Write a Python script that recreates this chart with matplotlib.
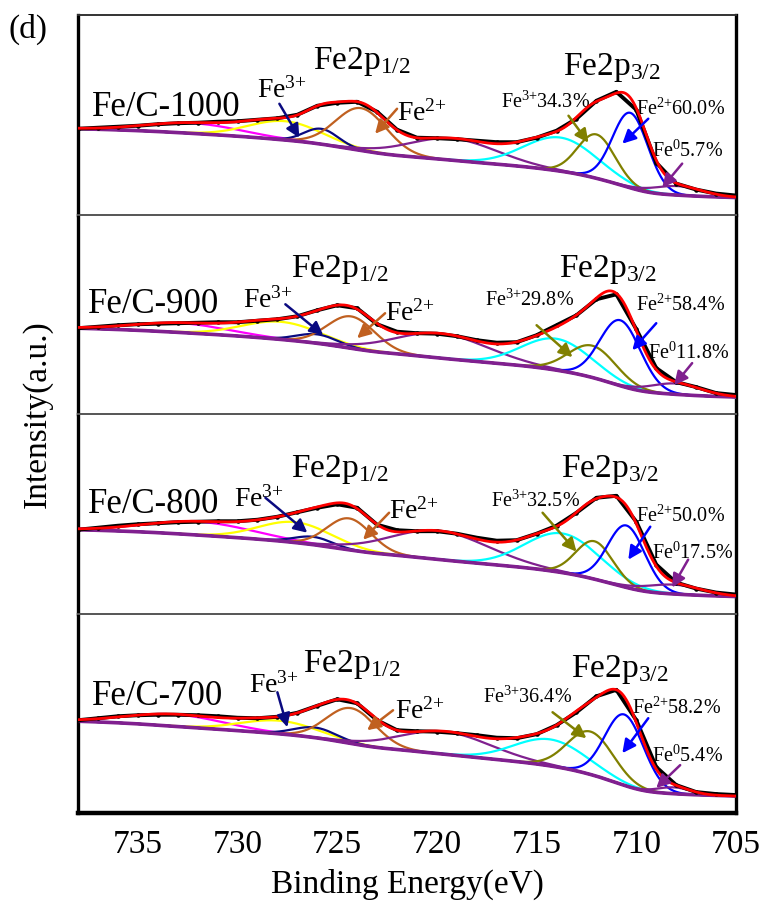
import numpy as np
import matplotlib
matplotlib.use("Agg")
import matplotlib.pyplot as plt

plt.rcParams['font.family'] = ['Liberation Serif', 'DejaVu Serif']
plt.rcParams['mathtext.fontset'] = 'custom'
plt.rcParams['mathtext.rm'] = 'Liberation Serif'
plt.rcParams['mathtext.default'] = 'regular'

# ---- data -------------------------------------------------------------
samples = ['Fe/C-1000', 'Fe/C-900', 'Fe/C-800', 'Fe/C-700']
fe3_pct = ['34.3%', '29.8%', '32.5%', '36.4%']
fe2_pct = ['60.0%', '58.4%', '50.0%', '58.2%']
fe0_pct = ['5.7%', '11.8%', '17.5%', '5.4%']

# measured spectra, read every 1 eV from 738 down to 705 eV
energy_raw = np.arange(738, 704, -1)
raw_1000 = [86, 87, 88, 89, 90.5, 91.5, 92, 93, 93.5, 95, 96.5, 100, 109, 112, 113, 103, 85,
            77, 76.5, 75.5, 74, 72.5, 72.5, 77, 84, 96, 114, 123, 105, 52, 31, 25, 21, 19]
raw_900 = [86, 87.5, 89, 90, 90.5, 91, 91.5, 92, 92, 93.5, 95, 98, 104, 109, 106, 90, 82.5,
           81, 80.5, 78, 74, 71.5, 72, 79, 89, 99, 115, 120, 85, 46, 32, 27, 21, 19]
raw_800 = [84, 86, 88, 89.5, 90.5, 91.5, 92, 92.5, 92.5, 94, 97, 101.5, 106, 109.5, 106, 89, 83.5,
           82.5, 82.5, 80, 76, 73, 73.5, 80, 88, 101, 116, 118, 92, 49, 31, 25, 21, 19]
raw_700 = [93, 95, 97, 98, 98.5, 98.5, 98, 97, 95.5, 95, 96.5, 100.5, 107.5, 114, 110, 93, 83,
           82, 81.5, 80, 78, 75.5, 75, 79, 88, 101, 117, 123.5, 93, 46, 28, 21, 19, 18]
raw_spectra = [raw_1000, raw_900, raw_800, raw_700]

# fitted components (centre eV, height, FWHM eV), in this order:
# Fe0, Fe2+ 2p3/2, Fe3+ 2p3/2, sat, sat, Fe2+ 2p1/2, Fe3+ 2p1/2, Fe3+ 2p1/2, sat
centers_1000 = [707.9, 710.3, 712.0, 713.8, 719.2, 723.8, 725.8, 727.6, 732.2]
heights_1000 = [9.1, 75.2, 44.0, 33.7, 21.7, 42.4, 15.4, 18.9, 10.2]
fwhm_1000 = [2.9, 2.1, 2.2, 4.3, 5.2, 3.0, 2.0, 4.3, 5.5]

centers_900 = [708.0, 710.8, 712.2, 714.0, 719.8, 724.3, 726.0, 727.8, 732.8]
heights_900 = [10.9, 65.7, 31.9, 31.5, 24.6, 32.0, 9.0, 17.7, 9.3]
fwhm_900 = [3.0, 2.4, 2.8, 4.1, 5.6, 2.8, 2.4, 4.6, 5.5]

centers_800 = [708.1, 710.5, 712.1, 713.7, 719.9, 724.4, 726.2, 727.1, 731.9]
heights_800 = [9.4, 62.1, 38.0, 39.3, 28.6, 31.5, 7.9, 20.5, 13.3]
fwhm_800 = [3.3, 2.2, 2.2, 4.4, 5.9, 2.6, 2.2, 4.3, 6.2]

centers_700 = [708.1, 710.6, 712.3, 714.3, 719.6, 724.3, 726.1, 727.9, 733.1]
heights_700 = [6.4, 71.0, 43.0, 26.6, 22.6, 35.4, 10.2, 13.2, 11.9]
fwhm_700 = [2.0, 2.3, 2.7, 4.3, 5.4, 2.9, 2.5, 4.5, 5.7]

centers = [centers_1000, centers_900, centers_800, centers_700]
heights = [heights_1000, heights_900, heights_800, heights_700]
fwhms = [fwhm_1000, fwhm_900, fwhm_800, fwhm_700]

# Shirley-type background level at 705 eV and at 738 eV
bg_ends = [(17, 86), (17, 86), (17, 84), (17, 92)]

comp_colors = ['#80208f', '#0000ff', '#808000', '#00ffff', '#80208f',
               '#c06020', '#0a0a80', '#ffff00', '#ff00ff']

# ---- label placement (energy, height) ----------------------------------
labels = [
    dict(s=(737.3, 99), f3=(729.0, 117), a3=((727.9, 111), (726.9, 77)), p1=(726.2, 146),
         f2=(722.0, 94), a2=((722.0, 106), (723.1, 81)), p3=(713.7, 140),
         t3=(716.8, 107), b3=((713.4, 99), (712.4, 72)), t2=(710.0, 100), b2=((709.4, 96), (710.7, 71)),
         t0=(709.2, 58), b0=((707.7, 51), (708.7, 27))),
    dict(s=(737.5, 101), f3=(729.7, 107), a3=((727.6, 110), (725.7, 79)), p1=(727.3, 137),
         f2=(722.6, 94), a2=((722.6, 101), (724.0, 76)), p3=(713.9, 137),
         t3=(717.6, 108), b3=((715.0, 89), (713.2, 57)), t2=(710.0, 103), b2=((709.0, 91), (710.2, 64)),
         t0=(709.4, 55), b0=((707.2, 51), (708.1, 29))),
    dict(s=(737.5, 101), f3=(730.2, 107), a3=((728.6, 116), (726.5, 81)), p1=(727.3, 137),
         f2=(722.4, 95), a2=((722.4, 101), (723.7, 74)), p3=(713.8, 137),
         t3=(717.3, 107), b3=((714.7, 101), (713.0, 62)), t2=(710.0, 92), b2=((709.3, 87), (710.4, 54)),
         t0=(709.2, 55), b0=((707.4, 54), (708.2, 26))),
    dict(s=(737.3, 108), f3=(729.4, 121), a3=((728.0, 121), (727.5, 86)), p1=(726.7, 141),
         f2=(722.1, 95), a2=((722.2, 103), (723.5, 83)), p3=(713.3, 136),
         t3=(717.7, 110), b3=((714.2, 101), (712.5, 75)), t2=(710.2, 99), b2=((709.4, 95), (710.7, 60)),
         t0=(709.2, 51), b0=((707.8, 48), (709.0, 25))),
]

E = np.linspace(705, 738, 1321)


def arrow(ax, pts, color):
    ax.annotate('', xy=pts[1], xytext=pts[0],
                arrowprops=dict(arrowstyle='-|>', color=color, lw=1.8,
                                mutation_scale=20, shrinkA=0, shrinkB=0), zorder=8)


fig = plt.figure(figsize=(7.63, 9.06), dpi=100)
left, width = 78 / 763, 658 / 763
bottom0, ph = 93 / 906, 199.5 / 906

for i in range(4):
    ax = fig.add_axes([left, bottom0 + (3 - i) * ph, width, ph])
    peaks = [h * np.exp(-4 * np.log(2) * (E - c) ** 2 / w ** 2)
             for c, h, w in zip(centers[i], heights[i], fwhms[i])]
    total = np.sum(peaks, axis=0)
    cum = np.concatenate([[0], np.cumsum((total[1:] + total[:-1]) / 2 * np.diff(E))])
    lo, hi = bg_ends[i]
    bg = lo + (hi - lo) * (0.25 * (E - 705) / 33 + 0.75 * cum / cum[-1])

    for p, col in zip(peaks[::-1], comp_colors[::-1]):
        ax.plot(E, bg + p, color=col, lw=1.6, zorder=3)
    ax.plot(E, bg, color='#80208f', lw=2.6, zorder=4)
    ax.plot(energy_raw, raw_spectra[i], color='k', lw=2.8, marker='.', ms=4.5, zorder=5)
    ax.plot(E, bg + total, color='#ff0000', lw=2.0, zorder=6)

    L = labels[i]
    ax.text(*L['s'], samples[i], fontsize=25)
    ax.text(*L['f3'], 'Fe$^{3{+}}$', fontsize=20)
    ax.text(*L['p1'], 'Fe2p$_{1/2}$', fontsize=24)
    ax.text(*L['f2'], 'Fe$^{2{+}}$', fontsize=20)
    ax.text(*L['p3'], 'Fe2p$_{3/2}$', fontsize=24)
    ax.text(*L['t3'], 'Fe$^{3{+}}$' + fe3_pct[i], fontsize=14.5)
    ax.text(*L['t2'], 'Fe$^{2{+}}$' + fe2_pct[i], fontsize=14.5)
    ax.text(*L['t0'], 'Fe$^{0}$' + fe0_pct[i], fontsize=14.5)
    arrow(ax, L['a3'], '#0a0a80')
    arrow(ax, L['a2'], '#c06020')
    arrow(ax, L['b3'], '#808000')
    arrow(ax, L['b2'], '#0000ff')
    arrow(ax, L['b0'], '#80208f')

    ax.set_xlim(738, 705)
    ax.set_ylim(0, 200)
    ax.set_yticks([])
    ax.tick_params(axis='x', length=0, labelsize=24, pad=12)
    for s in ('left', 'right'):
        ax.spines[s].set_linewidth(2.4)
    ax.spines['top'].set_linewidth(1.4)
    ax.spines['top'].set_color('#333333' if i == 0 else '#555555')
    if i < 3:
        ax.spines['bottom'].set_visible(False)
        ax.set_xticklabels([])
    else:
        ax.spines['bottom'].set_linewidth(3.2)
        ax.set_xticks([735, 730, 725, 720, 715, 710, 705])
        ax.set_xlabel('Binding Energy(eV)', fontsize=24, labelpad=6)

fig.text(37 / 763, 1 - 414 / 906, 'Intensity(a.u.)', fontsize=24, rotation=90,
         ha='center', va='center')
fig.text(8 / 763, 1 - 29 / 906, '(d)', fontsize=24, ha='left', va='center')

fig.savefig('out.png', dpi=100)
